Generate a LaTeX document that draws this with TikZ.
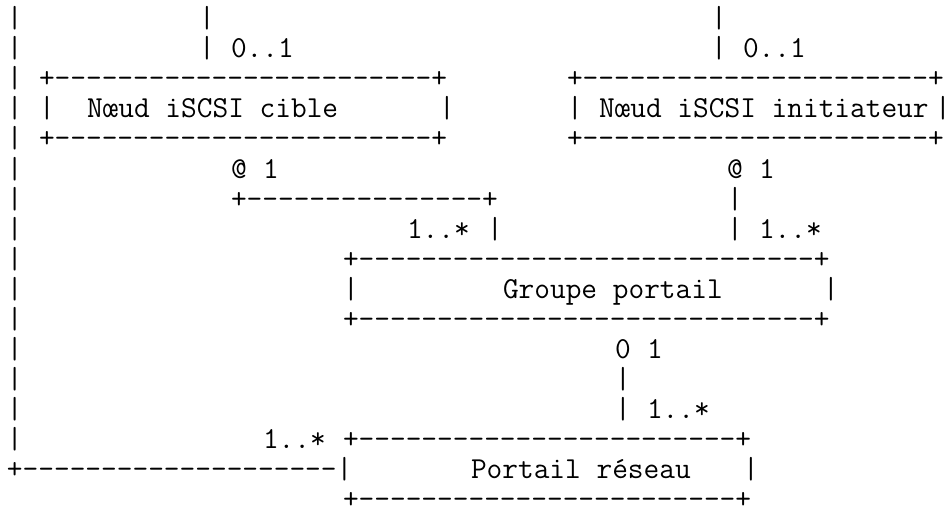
\documentclass[tikz,border=0pt]{standalone}
\usepackage{fontspec}
\usepackage{tikz}

% bord de cadre : + suivi de n tirets puis +
\newcommand{\cadre}[1]{+\foreach \k in {1,...,#1}{-}+}
\newcommand{\tirets}[1]{\foreach \k in {1,...,#1}{-}}

\begin{document}
\begin{tikzpicture}[x=12pt,y=-22.56pt,
    car/.style={font=\ttfamily\fontsize{22.86pt}{24pt}\selectfont,
      anchor=base west,inner sep=0pt,outer sep=0pt}]
  \useasboundingbox (-0.4375,0.08) rectangle (59,17.068);
  % ligne de gauche
  \foreach \r in {1,...,15}
    \node[car] (g\r) at (0,\r) {|};
  \node[car] (gBas) at (0,16) {+\tirets{20}|};
  % noeud cible
  \node[car] (cibleL1) at (12,1) {|};
  \node[car] (cibleL2) at (12,2) {|};
  \node[car] (cibleM) at (14,2) {0..1};
  \node[car] (cibleHaut) at (2,3) {\cadre{24}};
  \node[car] (cibleG) at (2,4) {|};
  \node[car] (cible) at (5,4) {Nœud iSCSI cible};
  \node[car] (cibleD) at (27,4) {|};
  \node[car] (cibleBas) at (2,5) {\cadre{24}};
  \node[car] (cibleA) at (14,6) {@};
  \node[car] (cibleN) at (16,6) {1};
  \node[car] (cibleLien) at (14,7) {\cadre{15}};
  \node[car] (cibleP) at (25,8) {1..*};
  \node[car] (cibleL3) at (30,8) {|};
  % noeud initiateur
  \node[car] (initL1) at (44,1) {|};
  \node[car] (initL2) at (44,2) {|};
  \node[car] (initM) at (46,2) {0..1};
  \node[car] (initHaut) at (35,3) {\cadre{22}};
  \node[car] (initG) at (35,4) {|};
  \node[car] (initiateur) at (37,4) {Nœud iSCSI initiateur};
  \node[car] (initD) at (58,4) {|};
  \node[car] (initBas) at (35,5) {\cadre{22}};
  \node[car] (initA) at (45,6) {@};
  \node[car] (initN) at (47,6) {1};
  \node[car] (initL3) at (45,7) {|};
  \node[car] (initL4) at (45,8) {|};
  \node[car] (initP) at (47,8) {1..*};
  % groupe portail
  \node[car] (groupeHaut) at (21,9) {\cadre{29}};
  \node[car] (groupeG) at (21,10) {|};
  \node[car] (groupe) at (31,10) {Groupe portail};
  \node[car] (groupeD) at (51,10) {|};
  \node[car] (groupeBas) at (21,11) {\cadre{29}};
  \node[car] (groupeZ) at (38,12) {0};
  \node[car] (groupeN) at (40,12) {1};
  \node[car] (groupeL1) at (38,13) {|};
  \node[car] (groupeL2) at (38,14) {|};
  \node[car] (groupeP) at (40,14) {1..*};
  % portail reseau
  \node[car] (portailP) at (16,15) {1..*};
  \node[car] (portailHaut) at (21,15) {\cadre{24}};
  \node[car] (portail) at (29,16) {Portail réseau};
  \node[car] (portailD) at (46,16) {|};
  \node[car] (portailBas) at (21,17) {\cadre{24}};
\end{tikzpicture}
\end{document}
